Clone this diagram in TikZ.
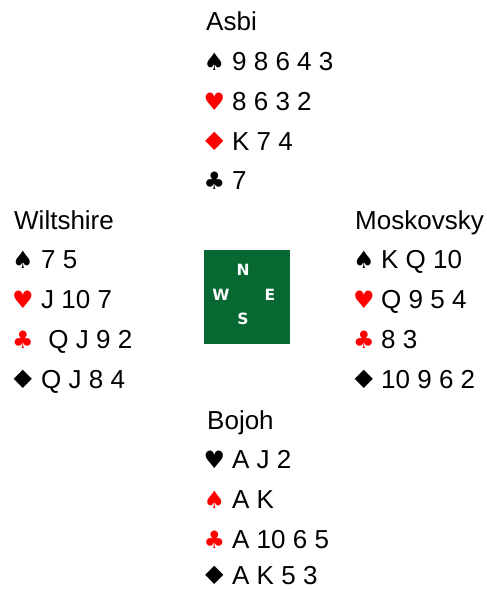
\documentclass[tikz,border=0pt]{standalone}
\usepackage{fontspec}
\setmainfont{Liberation Sans}
\newfontfamily\suitfont{DejaVu Sans}
\newfontfamily\compassfont{DejaVu Sans}
\definecolor{feltgreen}{RGB}{8,104,50}
\definecolor{suitred}{RGB}{255,0,0}
\newcommand{\widediamond}{\scalebox{1.35}[1.05]{♦}}

\begin{document}
\begin{tikzpicture}[x=1pt, y=-1pt]
    \tikzset{
      player/.style={anchor=base west, inner sep=0pt, font=\fontsize{26}{30}\selectfont},
      holding/.style={anchor=base west, inner sep=0pt, font=\fontsize{26}{30}\selectfont},
      suit/.style={anchor=base, inner sep=0pt, font=\suitfont\fontsize{24}{30}\selectfont},
      redsuit/.style={suit, text=suitred},
      wind/.style={text=white, inner sep=0pt, font=\compassfont\bfseries\fontsize{15.5}{18}\selectfont}
    }
    \useasboundingbox (0,0) rectangle (487,589);

    % Nord: Asbi
    \node[player] (asbi) at (206,30) {Asbi};
    \node[suit] (asbiS) at (214.5,70) {♠};
    \node[holding] (asbiSc) at (232,70) {9 8 6 4 3};
    \node[redsuit] (asbiH) at (214.5,110) {♥};
    \node[holding] (asbiHc) at (232,110) {8 6 3 2};
    \node[redsuit] (asbiD) at (214.5,150) {\widediamond};
    \node[holding] (asbiDc) at (232,150) {K 7 4};
    \node[suit] (asbiC) at (214.5,189) {♣};
    \node[holding] (asbiCc) at (232,189) {7};

    % Ouest: Wiltshire
    \node[player] (wilt) at (14,229) {Wiltshire};
    \node[suit] (wiltS) at (23,268) {♠};
    \node[holding] (wiltSc) at (41,268) {7 5};
    \node[redsuit] (wiltH) at (23,308) {♥};
    \node[holding] (wiltHc) at (41,308) {J 10 7};
    \node[redsuit] (wiltC) at (23,348) {♣};
    \node[holding] (wiltCc) at (41,348) { \ Q J 9 2};
    \node[suit] (wiltD) at (23,388) {\widediamond};
    \node[holding] (wiltDc) at (41,388) {Q J 8 4};

    % Est: Moskovsky
    \node[player] (mosk) at (355,229) {Moskovsky};
    \node[suit] (moskS) at (364,268) {♠};
    \node[holding] (moskSc) at (381,268) {K Q 10};
    \node[redsuit] (moskH) at (364,308) {♥};
    \node[holding] (moskHc) at (381,308) {Q 9 5 4};
    \node[redsuit] (moskC) at (364,348) {♣};
    \node[holding] (moskCc) at (381,348) {8 3};
    \node[suit] (moskD) at (364,388) {\widediamond};
    \node[holding] (moskDc) at (381,388) {10 9 6 2};

    % Sud: Bojoh
    \node[player] (bojoh) at (207,429) {Bojoh};
    \node[suit] (bojohH) at (214.5,468) {♥};
    \node[holding] (bojohHc) at (232,468) {A J 2};
    \node[redsuit] (bojohS) at (214.5,508) {♠};
    \node[holding] (bojohSc) at (232,508) {A K};
    \node[redsuit] (bojohC) at (214.5,548) {♣};
    \node[holding] (bojohCc) at (232,548) {A 10 6 5};
    \node[suit] (bojohD) at (214.5,584) {\widediamond};
    \node[holding] (bojohDc) at (232,584) {A K 5 3};

    % la table
    \node[fill=feltgreen, minimum width=86pt, minimum height=94pt, inner sep=0pt] (table) at (247,297) {};
    \node[wind] (north) at (243,270) {N};
    \node[wind] (west) at (221,295) {W};
    \node[wind] (east) at (270,295) {E};
    \node[wind] (south) at (243,319) {S};
\end{tikzpicture}
\end{document}
